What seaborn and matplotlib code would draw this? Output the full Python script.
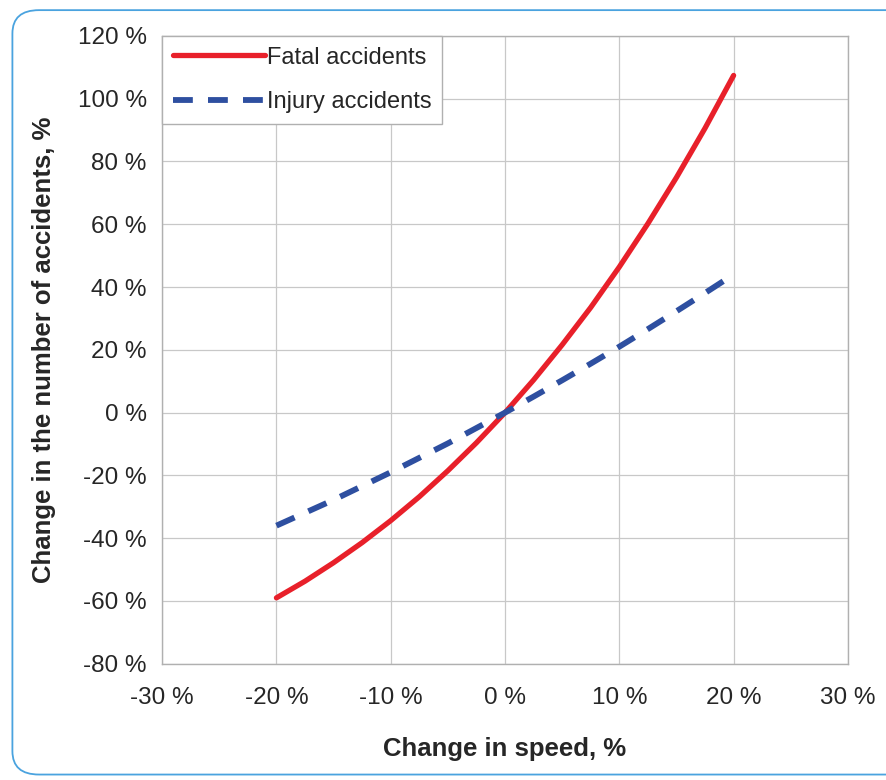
import numpy as np
import pandas as pd
import matplotlib
matplotlib.use("Agg")
import matplotlib.pyplot as plt
import seaborn as sns
from matplotlib.patches import FancyBboxPatch
from matplotlib.lines import Line2D
from matplotlib.ticker import FuncFormatter

# values
speed_change = [-20, -17.5, -15, -12.5, -10, -7.5, -5, -2.5, 0, 2.5, 5, 7.5, 10, 12.5, 15, 17.5, 20]
fatal = [-59, -53.7, -47.8, -41.4, -34.4, -26.8, -18.5, -9.6, 0, 10.4, 21.6, 33.5, 46.4, 60.2, 74.9, 90.6, 107.4]
injury = [-36, -31.9, -27.8, -23.4, -19, -14.4, -9.8, -4.9, 0, 5.1, 10.3, 15.6, 21, 26.6, 32.3, 38.1, 44]

df = pd.DataFrame({"speed": speed_change + speed_change,
                   "change": fatal + injury,
                   "kind": ["Fatal accidents"] * len(fatal) + ["Injury accidents"] * len(injury)})

sns.set_style("white")
plt.rcParams["font.family"] = ["Liberation Sans", "DejaVu Sans"]

fig = plt.figure(figsize=(8.86, 7.8), dpi=100)
ax = fig.add_axes([0.183, 0.149, 0.774, 0.805])

# rounded border around the figure
border = FancyBboxPatch((0.014, 0.007), 1.05, 0.98, boxstyle="round,pad=0,rounding_size=0.03",
                        transform=fig.transFigure, fill=False, edgecolor="#4aa3df", linewidth=1.3,
                        clip_on=False)
fig.patches.append(border)

colors = {"Fatal accidents": "#e8202a", "Injury accidents": "#2e4fa0"}
sns.lineplot(data=df, x="speed", y="change", hue="kind", palette=colors, ax=ax, legend=False)
ax.lines[0].set_linewidth(3.8)
ax.lines[0].set_solid_capstyle("round")
ax.lines[1].set_linewidth(4.2)
ax.lines[1].set_dashes([3.4, 2.6])

ax.set_xlim(-30, 30)
ax.set_ylim(-80, 120)
ax.set_xticks(range(-30, 31, 10))
ax.set_yticks(range(-80, 121, 20))
pct = FuncFormatter(lambda v, p: f"{v:.0f} %")
ax.xaxis.set_major_formatter(pct)
ax.yaxis.set_major_formatter(pct)
ax.grid(True, color="#c8c8c8", linewidth=0.9)
for s in ax.spines.values():
    s.set_color("#b0b0b0")
    s.set_linewidth(1.0)
ax.tick_params(labelsize=17.5, length=5, color="#b0b0b0")
ax.tick_params(axis="x", pad=12)
ax.tick_params(axis="y", pad=6)

ax.set_xlabel("Change in speed, %", fontsize=18.5, fontweight="bold", labelpad=20)
ax.set_ylabel("Change in the number of accidents, %", fontsize=18.5, fontweight="bold", labelpad=16)

handles = [Line2D([], [], color=colors["Fatal accidents"], lw=3.8, solid_capstyle="round"),
           Line2D([], [], color=colors["Injury accidents"], lw=4.2, dashes=[3.4, 2.6])]
leg = ax.legend(handles, ["Fatal accidents", "Injury accidents"], loc="upper left",
                borderaxespad=0, fontsize=17, handlelength=3.9, handletextpad=0.1,
                fancybox=False, framealpha=1, edgecolor="#b0b0b0", borderpad=0.45,
                labelspacing=0.95)
leg.get_frame().set_linewidth(1.0)

fig.savefig("out.png", dpi=100)
